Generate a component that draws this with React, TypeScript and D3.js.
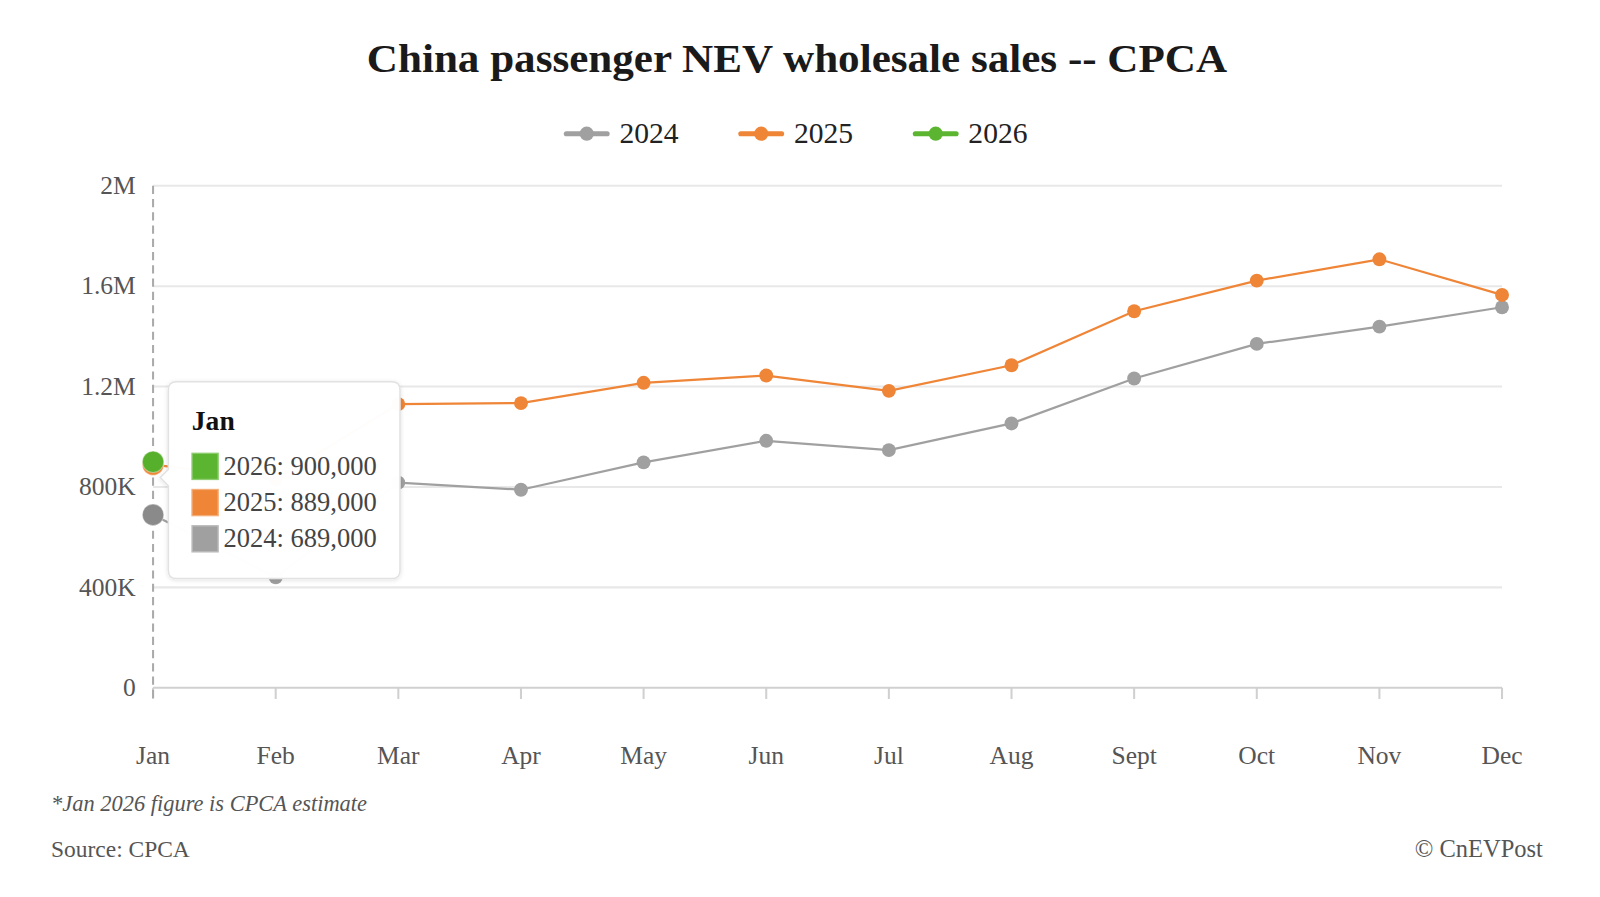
import React from 'react';
import * as d3 from 'd3';

// China passenger NEV wholesale sales, CPCA
const months = ['Jan', 'Feb', 'Mar', 'Apr', 'May', 'Jun', 'Jul', 'Aug', 'Sept', 'Oct', 'Nov', 'Dec'];
const sales2024 = [689000, 440000, 817000, 789000, 898000, 984000, 947000, 1053000, 1232000, 1370000, 1439000, 1516000];
const sales2025 = [889000, 830000, 1130000, 1134000, 1215000, 1244000, 1183000, 1285000, 1500000, 1622000, 1707000, 1565000];
const sales2026 = [900000];
const yTicks = [0, 400000, 800000, 1200000, 1600000, 2000000];
const yTickLabels = ['0', '400K', '800K', '1.2M', '1.6M', '2M'];

const series = [
  { name: '2024', values: sales2024, color: '#a0a0a0', hover: '#8a8a8a' },
  { name: '2025', values: sales2025, color: '#ef8537', hover: '#ef8537' },
  { name: '2026', values: sales2026, color: '#5cb531', hover: '#56b02c' },
];

// drawing units: the picture is laid out on a 1568 x 879 grid, scaled up to the 1600 x 897 page
const VW = 1568;
const VH = 879;
const serif = '"Liberation Serif", "DejaVu Serif", serif';

const App: React.FC = () => {
  const x = d3.scalePoint<string>().domain(months).range([150, 1472]);
  const y = d3.scaleLinear().domain([0, 2000000]).range([674, 182]);

  const line = d3
    .line<number>()
    .x((_, i) => x(months[i]) as number)
    .y((d) => y(d));

  const hoverIdx = 0;
  const tipRows = [...series].reverse();

  return (
    <>
      <style>{'body{margin:0;background:#fff}'}</style>
      <svg width={1600} height={897} viewBox={`0 0 ${VW} ${VH}`} style={{ display: 'block', background: '#fff' }}>
        <defs>
          <filter id="tipShadow" x="-20%" y="-20%" width="140%" height="140%">
            <feDropShadow dx="0" dy="1" stdDeviation="2" floodColor="#000" floodOpacity="0.12" />
          </filter>
        </defs>

        <text x={781} y={71} textAnchor="middle" fontFamily={serif} fontWeight="bold" fontSize={40}
          fill="#1a1a1a" textLength={843} lengthAdjust="spacingAndGlyphs">
          China passenger NEV wholesale sales -- CPCA
        </text>

        {/* legend */}
        {series.map((s, i) => {
          const lx = 555 + i * 171;
          return (
            <g key={s.name}>
              <line x1={lx} x2={lx + 40} y1={131} y2={131} stroke={s.color} strokeWidth={5} strokeLinecap="round" />
              <circle cx={lx + 20} cy={131} r={7} fill={s.color} />
              <text x={lx + 52} y={140} fontFamily={serif} fontSize={29} fill="#222">{s.name}</text>
            </g>
          );
        })}

        {/* grid and y axis labels */}
        {yTicks.map((t, i) => (
          <g key={t}>
            {t > 0 && <line x1={150} x2={1472} y1={y(t)} y2={y(t)} stroke="#e8e8e8" strokeWidth={2} />}
            <text x={133} y={y(t) + 8} textAnchor="end" fontFamily={serif} fontSize={25} fill="#555">
              {yTickLabels[i]}
            </text>
          </g>
        ))}

        {/* x axis */}
        <line x1={150} x2={1472} y1={y(0)} y2={y(0)} stroke="#d0d0d0" strokeWidth={2} />
        {months.map((m) => (
          <g key={m}>
            <line x1={x(m)} x2={x(m)} y1={y(0)} y2={y(0) + 11} stroke="#d0d0d0" strokeWidth={2} />
            <text x={x(m)} y={749} textAnchor="middle" fontFamily={serif} fontSize={25} fill="#555">{m}</text>
          </g>
        ))}

        {/* axis pointer */}
        <line x1={x(months[hoverIdx])} x2={x(months[hoverIdx])} y1={y(2000000)} y2={y(0) + 11}
          stroke="#aaa" strokeWidth={2} strokeDasharray="8,5" />

        {/* series */}
        {series.map((s) => (
          <g key={s.name}>
            <path d={line(s.values) ?? ''} fill="none" stroke={s.color} strokeWidth={2.2} />
            {s.values.map((v, i) =>
              i === hoverIdx ? null : <circle key={i} cx={x(months[i])} cy={y(v)} r={6.8} fill={s.color} />,
            )}
          </g>
        ))}
        {series.map((s) => (
          <circle key={s.name} cx={x(months[hoverIdx])} cy={y(s.values[hoverIdx])} r={10.5}
            fill={s.hover} stroke="#fff" strokeOpacity={0.4} strokeWidth={1} />
        ))}

        {/* tooltip */}
        <g filter="url(#tipShadow)">
          <path
            d="M173,374 H384 Q392,374 392,382 V559 Q392,567 384,567 H173 Q165,567 165,559 V476 L157,468 L165,460 V382 Q165,374 173,374 Z"
            fill="#fff" fillOpacity={0.985} stroke="#e2e2e2" strokeWidth={1.5} />
        </g>
        <text x={188} y={421} fontFamily={serif} fontWeight="bold" fontSize={27} fill="#111">
          {months[hoverIdx]}
        </text>
        {tipRows.map((s, i) => {
          const ry = 456 + i * 35.5;
          return (
            <g key={s.name}>
              <rect x={188} y={ry - 12} width={26} height={26} fill={s.color} stroke="#fff" strokeOpacity={0.5} strokeWidth={1.5} />
              <rect x={188} y={ry - 12} width={26} height={26} fill="none" stroke={s.color} strokeOpacity={0.6} strokeWidth={1} />
              <text x={219} y={ry + 9} fontFamily={serif} fontSize={26} fill="#444">
                {`${s.name}: ${d3.format(',')(s.values[hoverIdx])}`}
              </text>
            </g>
          );
        })}

        {/* footnotes */}
        <text x={50} y={795} fontFamily={serif} fontStyle="italic" fontSize={22} fill="#555">
          *Jan 2026 figure is CPCA estimate
        </text>
        <text x={50} y={840} fontFamily={serif} fontSize={23} fill="#555">Source: CPCA</text>
        <text x={1512} y={840} textAnchor="end" fontFamily={serif} fontSize={24} fill="#555">© CnEVPost</text>
      </svg>
    </>
  );
};

export default App;
